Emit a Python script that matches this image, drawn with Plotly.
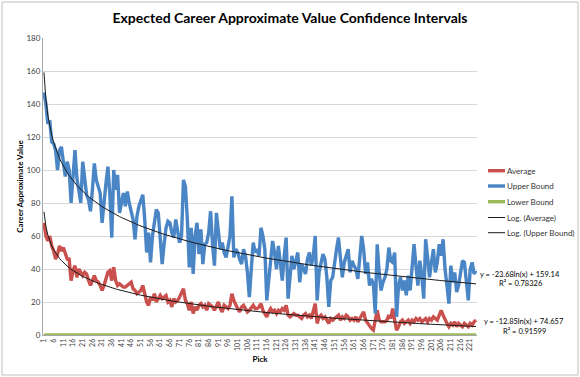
import numpy as np
import plotly.graph_objects as go

picks = list(range(1, 225))

average = [
    68, 60, 57, 60, 54, 51, 46, 49, 54, 51, 53, 50, 46, 46, 33, 39, 42, 35, 40, 38,
    36, 38, 37, 33, 30, 33, 36, 33, 32, 30, 27, 30, 35, 38, 39, 33, 41, 33, 30, 31,
    30, 29, 29, 30, 31, 32, 28, 27, 25, 26, 27, 30, 25, 20, 18, 23, 21, 25, 20, 22,
    24, 22, 23, 24, 20, 21, 17, 22, 20, 21, 23, 25, 28, 21, 19, 15, 20, 13, 17, 15,
    18, 19, 17, 18, 15, 19, 18, 17, 15, 18, 20, 16, 14, 18, 17, 16, 18, 25, 21, 18,
    16, 14, 17, 18, 16, 14, 15, 17, 18, 16, 16, 17, 19, 15, 13, 11, 14, 16, 14, 15,
    13, 15, 14, 16, 15, 18, 12, 11, 12, 13, 12, 12, 11, 10, 12, 13, 11, 12, 10, 14,
    19, 7, 11, 12, 10, 11, 9, 7, 10, 9, 10, 11, 12, 9, 11, 10, 12, 11, 9, 10,
    9, 11, 8, 10, 12, 14, 9, 7, 5, 4, 3, 10, 15, 9, 8, 8, 8, 9, 12, 10,
    16, 9, 3, 5, 8, 9, 7, 8, 9, 7, 9, 8, 10, 9, 10, 8, 9, 10, 8, 10,
    9, 11, 10, 9, 12, 15, 12, 9, 7, 5, 7, 6, 8, 5, 7, 6, 5, 7, 6, 5,
    7, 6, 8, 9,
]

upper = [
    147, 140, 128, 130, 117, 116, 112, 100, 112, 114, 105, 96, 105, 100, 80, 98, 112, 95, 88, 80,
    105, 96, 85, 82, 75, 88, 104, 94, 90, 86, 68, 82, 92, 102, 85, 59, 100, 88, 97, 74,
    80, 86, 78, 87, 80, 74, 70, 58, 72, 78, 82, 85, 70, 50, 62, 44, 60, 70, 76, 74,
    60, 43, 55, 65, 69, 68, 62, 59, 70, 64, 56, 60, 94, 90, 70, 41, 65, 37, 60, 68,
    49, 64, 43, 55, 56, 62, 75, 55, 42, 74, 60, 52, 56, 50, 47, 55, 60, 84, 47, 52,
    50, 46, 43, 52, 48, 38, 23, 40, 56, 50, 52, 48, 65, 60, 52, 21, 35, 45, 57, 50,
    40, 54, 45, 33, 48, 59, 22, 38, 48, 40, 45, 50, 32, 43, 40, 37, 46, 50, 42, 48,
    60, 21, 38, 44, 49, 46, 35, 17, 33, 35, 45, 52, 59, 48, 35, 44, 48, 52, 38, 45,
    42, 40, 34, 48, 60, 52, 37, 44, 30, 34, 31, 13, 55, 38, 27, 32, 35, 40, 53, 45,
    44, 50, 11, 30, 35, 27, 33, 24, 36, 27, 40, 55, 42, 30, 45, 36, 22, 58, 47, 35,
    44, 52, 38, 44, 55, 48, 58, 40, 30, 19, 42, 32, 38, 26, 30, 37, 45, 44, 30, 21,
    40, 44, 37, 39,
]

lower = [
    0, 0, 0, 0, 0, 0, 0, 0, 0, 0, 0, 0, 0, 0, 0, 0, 0, 0, 0, 0,
    0, 0, 0, 0, 0, 0, 0, 0, 0, 0, 0, 0, 0, 0, 0, 0, 0, 0, 0, 0,
    0, 0, 0, 0, 0, 0, 0, 0, 0, 0, 0, 0, 0, 0, 0, 0, 0, 0, 0, 0,
    0, 0, 0, 0, 0, 0, 0, 0, 0, 0, 0, 0, 0, 0, 0, 0, 0, 0, 0, 0,
    0, 0, 0, 0, 0, 0, 0, 0, 0, 0, 0, 0, 0, 0, 0, 0, 0, 0, 0, 0,
    0, 0, 0, 0, 0, 0, 0, 0, 0, 0, 0, 0, 0, 0, 0, 0, 0, 0, 0, 0,
    0, 0, 0, 0, 0, 0, 0, 0, 0, 0, 0, 0, 0, 0, 0, 0, 0, 0, 0, 0,
    0, 0, 0, 0, 0, 0, 0, 0, 0, 0, 0, 0, 0, 0, 0, 0, 0, 0, 0, 0,
    0, 0, 0, 0, 0, 0, 0, 0, 0, 0, 0, 0, 0, 0, 0, 0, 0, 0, 0, 0,
    0, 0, 0, 0, 0, 0, 0, 0, 0, 0, 0, 0, 0, 0, 0, 0, 0, 0, 0, 0,
    0, 0, 0, 0, 0, 0, 0, 0, 0, 0, 0, 0, 0, 0, 0, 0, 0, 0, 0, 0,
    0, 0, 0, 0,
]

# Trendline coefficients as printed on the chart: y = a*ln(x) + b
trend_avg = (-12.85, 74.657)
trend_upper = (-23.68, 159.14)
eq_upper = ["y = -23.68ln(x) + 159.14", "R² = 0.78326"]
eq_avg = ["y = -12.85ln(x) + 74.657", "R² = 0.91599"]

series_names = ["Average", "Upper Bound", "Lower Bound", "Log. (Average)", "Log. (Upper Bound)"]
series_colors = ["#C9504C", "#4A86C5", "#9BBB59", "#1a1a1a", "#1a1a1a"]
series_widths = [3.4, 3.4, 3.4, 1, 1]

tick_picks = list(range(1, 225, 5))

FONT = "Lato"
W, H = 580, 377
L, R, T, B = 43, 103, 38, 42
PW, PH = W - L - R, H - T - B


def px(xp):
    return (xp - L) / PW


def py(yp):
    return (H - B - yp) / PH


x = np.array(picks, dtype=float)
ys = [average, upper, lower,
      trend_avg[0] * np.log(x) + trend_avg[1],
      trend_upper[0] * np.log(x) + trend_upper[1]]

fig = go.Figure()
for name, col, wd, yv in zip(series_names, series_colors, series_widths, ys):
    fig.add_trace(go.Scatter(x=picks, y=yv, mode="lines", name=name,
                             line=dict(color=col, width=wd), showlegend=False))

shapes = [dict(type="rect", xref="paper", yref="paper", x0=px(2), x1=px(578),
               y0=py(375), y1=py(2), line=dict(color="#BFBFBF", width=1), layer="below")]
annotations = []
legend_y = [170.7, 186, 201.7, 217.5, 232.7]
for name, col, wd, ly in zip(series_names, series_colors, series_widths, legend_y):
    shapes.append(dict(type="line", xref="paper", yref="paper", x0=px(488), x1=px(505),
                       y0=py(ly), y1=py(ly), line=dict(color=col, width=wd)))
    annotations.append(dict(xref="paper", yref="paper", x=px(505), y=py(ly), text=name,
                            showarrow=False, xanchor="left", yanchor="middle",
                            font=dict(size=8, color="#333333")))

for txt, cx, cy in [(eq_upper[0], 520, 274), (eq_upper[1], 521, 283.5),
                    (eq_avg[0], 524, 321.7), (eq_avg[1], 524, 331)]:
    annotations.append(dict(xref="paper", yref="paper", x=px(cx), y=py(cy), text=txt,
                            showarrow=False, xanchor="center", yanchor="middle",
                            font=dict(size=7.5, color="#000000")))

fig.update_layout(
    width=W, height=H,
    margin=dict(l=L, r=R, t=T, b=B),
    paper_bgcolor="white", plot_bgcolor="white",
    font=dict(family=FONT, size=8, color="#404040"),
    title=dict(text="<b>Expected Career Approximate Value Confidence Intervals</b>",
               x=0.5, xanchor="center", y=1 - 18 / H, yanchor="middle",
               font=dict(family=FONT, size=14, color="#000000")),
    showlegend=False,
    xaxis=dict(range=[0.5, 224.5], tickmode="array", tickvals=tick_picks,
               ticktext=[str(t) for t in tick_picks], tickangle=-90,
               tickfont=dict(size=7, color="#404040"), showgrid=False,
               showline=True, linecolor="#A6A6A6", linewidth=1, zeroline=False,
               title=dict(text="<b>Pick</b>", font=dict(size=8, color="#000000"), standoff=6)),
    yaxis=dict(range=[0, 180], dtick=20, tickfont=dict(size=8, color="#404040"),
               showgrid=True, gridcolor="#D9D9D9", gridwidth=1,
               showline=True, linecolor="#A6A6A6", linewidth=1, zeroline=False,
               title=dict(text="<b>Career Approximate Value</b>",
                          font=dict(size=8, color="#000000"), standoff=1)),
    shapes=shapes,
    annotations=annotations,
)

fig.write_html("out.html", config={"displayModeBar": False},
               post_script="document.body.style.margin='0';")
